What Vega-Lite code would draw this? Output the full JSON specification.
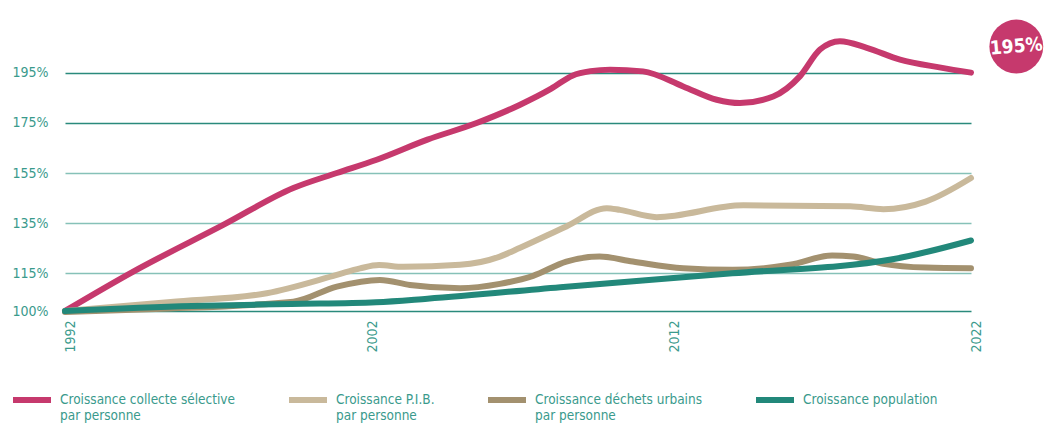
{
  "$schema": "https://vega.github.io/schema/vega-lite/v6.json",
  "width": 906,
  "height": 276,
  "autosize": {"type": "none"},
  "padding": {"left": 65, "top": 35, "right": 74, "bottom": 116},
  "background": "white",
  "config": {"view": {"stroke": null}, "font": "DejaVu Sans Condensed"},
  "datasets": {
    "series": [
      {"serie": "Croissance collecte sélective par personne", "year": 1992, "value": 100},
      {"serie": "Croissance collecte sélective par personne", "year": 1994.26, "value": 115.7},
      {"serie": "Croissance collecte sélective par personne", "year": 1997.24, "value": 134.3},
      {"serie": "Croissance collecte sélective par personne", "year": 1999.56, "value": 149},
      {"serie": "Croissance collecte sélective par personne", "year": 2001, "value": 155},
      {"serie": "Croissance collecte sélective par personne", "year": 2002.32, "value": 160.3},
      {"serie": "Croissance collecte sélective par personne", "year": 2004, "value": 168.3},
      {"serie": "Croissance collecte sélective par personne", "year": 2005.63, "value": 174.9},
      {"serie": "Croissance collecte sélective par personne", "year": 2007.07, "value": 182.2},
      {"serie": "Croissance collecte sélective par personne", "year": 2008.1, "value": 188.6},
      {"serie": "Croissance collecte sélective par personne", "year": 2008.8, "value": 193.8},
      {"serie": "Croissance collecte sélective par personne", "year": 2009.4, "value": 195.6},
      {"serie": "Croissance collecte sélective par personne", "year": 2010.05, "value": 196.2},
      {"serie": "Croissance collecte sélective par personne", "year": 2011.14, "value": 195.5},
      {"serie": "Croissance collecte sélective par personne", "year": 2012.47, "value": 189.5},
      {"serie": "Croissance collecte sélective par personne", "year": 2013.58, "value": 184.2},
      {"serie": "Croissance collecte sélective par personne", "year": 2014.35, "value": 182.9},
      {"serie": "Croissance collecte sélective par personne", "year": 2015.45, "value": 185.5},
      {"serie": "Croissance collecte sélective par personne", "year": 2016.34, "value": 193.6},
      {"serie": "Croissance collecte sélective par personne", "year": 2017, "value": 204.2},
      {"serie": "Croissance collecte sélective par personne", "year": 2017.66, "value": 207.5},
      {"serie": "Croissance collecte sélective par personne", "year": 2018.55, "value": 204.9},
      {"serie": "Croissance collecte sélective par personne", "year": 2019.65, "value": 200.2},
      {"serie": "Croissance collecte sélective par personne", "year": 2021, "value": 197},
      {"serie": "Croissance collecte sélective par personne", "year": 2022, "value": 195},
      {"serie": "Croissance P.I.B. par personne", "year": 1992, "value": 100},
      {"serie": "Croissance P.I.B. par personne", "year": 1995.5, "value": 103.6},
      {"serie": "Croissance P.I.B. par personne", "year": 1998.68, "value": 107.1},
      {"serie": "Croissance P.I.B. par personne", "year": 2001, "value": 114.4},
      {"serie": "Croissance P.I.B. par personne", "year": 2001.77, "value": 117},
      {"serie": "Croissance P.I.B. par personne", "year": 2002.4, "value": 118.3},
      {"serie": "Croissance P.I.B. par personne", "year": 2003.2, "value": 117.6},
      {"serie": "Croissance P.I.B. par personne", "year": 2005.08, "value": 118.4},
      {"serie": "Croissance P.I.B. par personne", "year": 2006.4, "value": 121.7},
      {"serie": "Croissance P.I.B. par personne", "year": 2007.07, "value": 125.2},
      {"serie": "Croissance P.I.B. par personne", "year": 2008.6, "value": 133.7},
      {"serie": "Croissance P.I.B. par personne", "year": 2009.94, "value": 141.0},
      {"serie": "Croissance P.I.B. par personne", "year": 2010.38, "value": 140.3},
      {"serie": "Croissance P.I.B. par personne", "year": 2011.59, "value": 137.4},
      {"serie": "Croissance P.I.B. par personne", "year": 2014.46, "value": 142.1},
      {"serie": "Croissance P.I.B. par personne", "year": 2018, "value": 141.7},
      {"serie": "Croissance P.I.B. par personne", "year": 2019.1, "value": 140.6},
      {"serie": "Croissance P.I.B. par personne", "year": 2020.5, "value": 143.6},
      {"serie": "Croissance P.I.B. par personne", "year": 2022, "value": 153},
      {"serie": "Croissance déchets urbains par personne", "year": 1992, "value": 99.6},
      {"serie": "Croissance déchets urbains par personne", "year": 1995, "value": 100.8},
      {"serie": "Croissance déchets urbains par personne", "year": 1999.56, "value": 103.7},
      {"serie": "Croissance déchets urbains par personne", "year": 2001, "value": 109.7},
      {"serie": "Croissance déchets urbains par personne", "year": 2002.43, "value": 112.4},
      {"serie": "Croissance déchets urbains par personne", "year": 2003.42, "value": 110.4},
      {"serie": "Croissance déchets urbains par personne", "year": 2005.08, "value": 109.1},
      {"serie": "Croissance déchets urbains par personne", "year": 2006.4, "value": 110.8},
      {"serie": "Croissance déchets urbains par personne", "year": 2007.5, "value": 114},
      {"serie": "Croissance déchets urbains par personne", "year": 2008.6, "value": 119.7},
      {"serie": "Croissance déchets urbains par personne", "year": 2009.7, "value": 121.7},
      {"serie": "Croissance déchets urbains par personne", "year": 2010.8, "value": 119.7},
      {"serie": "Croissance déchets urbains par personne", "year": 2012.47, "value": 117},
      {"serie": "Croissance déchets urbains par personne", "year": 2014.1, "value": 116.4},
      {"serie": "Croissance déchets urbains par personne", "year": 2016, "value": 118.4},
      {"serie": "Croissance déchets urbains par personne", "year": 2017.4, "value": 122.1},
      {"serie": "Croissance déchets urbains par personne", "year": 2018.1, "value": 121.7},
      {"serie": "Croissance déchets urbains par personne", "year": 2019.1, "value": 118.8},
      {"serie": "Croissance déchets urbains par personne", "year": 2020.5, "value": 117.3},
      {"serie": "Croissance déchets urbains par personne", "year": 2022, "value": 117},
      {"serie": "Croissance population", "year": 1992, "value": 100},
      {"serie": "Croissance population", "year": 1996.2, "value": 102},
      {"serie": "Croissance population", "year": 1999.5, "value": 102.8},
      {"serie": "Croissance population", "year": 2002.3, "value": 103.5},
      {"serie": "Croissance population", "year": 2004, "value": 104.9},
      {"serie": "Croissance population", "year": 2008.4, "value": 109.5},
      {"serie": "Croissance population", "year": 2014.1, "value": 115},
      {"serie": "Croissance population", "year": 2019.4, "value": 120.6},
      {"serie": "Croissance population", "year": 2022, "value": 128.1}
    ],
    "badge": [
      {"year": 2023.5, "value": 205.4, "label": "195%"}
    ]
  },
  "layer": [
    {
      "data": {"name": "series"},
      "mark": {"type": "line", "interpolate": "monotone", "strokeWidth": 6, "strokeCap": "round", "strokeJoin": "round"},
      "encoding": {
        "x": {
          "field": "year", "type": "quantitative",
          "scale": {"domain": [1992, 2022], "nice": false, "zero": false},
          "axis": {
            "values": [1992, 2002, 2012, 2022], "format": "d", "title": null,
            "labelAngle": -90, "labelAlign": "right", "labelBaseline": "middle",
            "labelPadding": 9, "labelOffset": 5, "ticks": false, "domain": false, "grid": false,
            "labelColor": "#3a9a8c", "labelFontSize": 14, "labelFlush": false, "labelOverlap": false
          }
        },
        "y": {
          "field": "value", "type": "quantitative",
          "scale": {"domain": [100, 210], "nice": false, "zero": false},
          "axis": {
            "values": [100, 115, 135, 155, 175, 195], "labelExpr": "datum.value + '%'", "title": null,
            "labelAlign": "left", "labelBaseline": "middle", "labelPadding": 53, "ticks": false, "domain": false,
            "grid": true,
            "gridColor": {"condition": {"test": "datum.value >= 175 || datum.value == 100", "value": "#2a8a7c"}, "value": "#86c1b8"},
            "gridWidth": 1.5, "labelColor": "#3a9a8c", "labelFontSize": 14, "labelOverlap": false
          }
        },
        "color": {
          "field": "serie", "type": "nominal",
          "scale": {
            "domain": ["Croissance collecte sélective par personne", "Croissance P.I.B. par personne", "Croissance déchets urbains par personne", "Croissance population"],
            "range": ["#c6396d", "#c9b99b", "#a3916f", "#22887a"]
          },
          "legend": {
            "orient": "none", "legendX": -55, "legendY": 343, "direction": "horizontal", "columns": 4,
            "title": null, "symbolType": "stroke", "symbolSize": 1444, "symbolStrokeWidth": 6,
            "labelFontSize": 13.5, "labelColor": "#3a9a8c", "labelLimit": 0, "labelOffset": 6,
            "columnPadding": 41, "labelLineHeight": 21, "labelBaseline": "middle",
            "labelExpr": "indexof(datum.label, ' par personne') > 0 ? [replace(datum.label, ' par personne', ''), 'par personne'] : [datum.label, '']"
          }
        }
      }
    },
    {
      "data": {"name": "badge"},
      "mark": {"type": "point", "filled": true, "size": 2900, "color": "#c6396d", "opacity": 1},
      "encoding": {
        "x": {"field": "year", "type": "quantitative"},
        "y": {"field": "value", "type": "quantitative"}
      }
    },
    {
      "data": {"name": "badge"},
      "mark": {"type": "text", "color": "white", "fontWeight": "bold", "fontSize": 19, "angle": -5},
      "encoding": {
        "x": {"field": "year", "type": "quantitative"},
        "y": {"field": "value", "type": "quantitative"},
        "text": {"field": "label"}
      }
    }
  ]
}
